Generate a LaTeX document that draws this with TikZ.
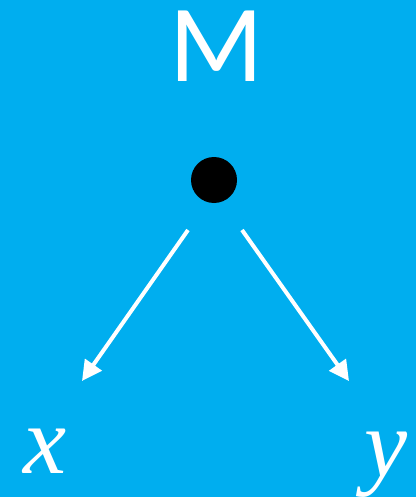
\documentclass[tikz,border=0pt]{standalone}
\usepackage{fontspec}
\usetikzlibrary{arrows.meta}
\newfontfamily\labelsans{Carlito}
\newfontfamily\labelserif{Liberation Serif}
\definecolor{bgcyan}{RGB}{0,174,239}
\tikzset{
  arr/.style={draw=white, line width=4pt, -{Triangle[length=20pt,width=20pt]}},
  lbl/.style={text=white, inner sep=0pt, anchor=base},
  varlbl/.style={lbl, font=\labelserif\itshape\fontsize{97}{97}\selectfont},
}
\begin{document}
\begin{tikzpicture}[x=1pt,y=-1pt]
\fill[bgcyan] (0,0) rectangle (416,497);
\useasboundingbox (0,0) rectangle (416,497);
\node[lbl, font=\labelsans\fontsize{110}{110}\selectfont] (M) at (217,82) {M};
\node[circle, fill=black, minimum size=46pt, inner sep=0pt] (dot) at (214,180) {};
\coordinate (s1) at (188,230);
\coordinate (s2) at (242,230);
\coordinate (t1) at (82,381);
\coordinate (t2) at (349,381);
\draw[arr] (s1) -- (t1);
\draw[arr] (s2) -- (t2);
\node[varlbl] (x) at (45,473) {x};
\node[varlbl] (y) at (386,476) {y};
\end{tikzpicture}
\end{document}
